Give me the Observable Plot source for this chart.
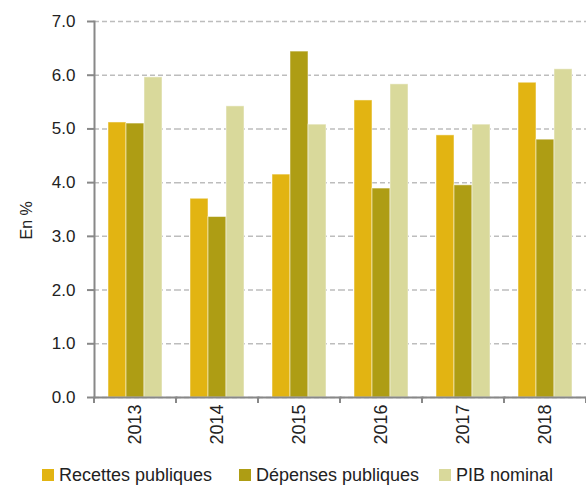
<!DOCTYPE html>
<html>
<head>
<meta charset="utf-8">
<script src="https://cdn.jsdelivr.net/npm/d3@7"></script>
<script src="https://cdn.jsdelivr.net/npm/@observablehq/plot@0.6"></script>
<style>
  html, body { margin: 0; padding: 0; background: #fff; overflow: hidden; }
  #chart { width: 586px; height: 452px; }
  .legend { position: relative; height: 34px; width: 586px; font-family: "Liberation Sans", Arial, sans-serif; font-size: 18px; color: #222; white-space: nowrap; }
  .legend .item { position: absolute; top: 12px; height: 22px; display: flex; align-items: center; }
  .legend .sw { width: 12px; height: 12px; margin-right: 5px; flex: none; }
</style>
</head>
<body>
<div id="chart"></div>
<script>
const years = ["2013", "2014", "2015", "2016", "2017", "2018"];
const series = ["Recettes publiques", "Dépenses publiques", "PIB nominal"];
const recettes = [5.12, 3.70, 4.15, 5.53, 4.88, 5.86];
const depenses = [5.10, 3.36, 6.44, 3.89, 3.95, 4.80];
const pib = [5.96, 5.42, 5.08, 5.83, 5.08, 6.11];
const yTicks = [0, 1, 2, 3, 4, 5, 6, 7];
const colors = ["#e2b412", "#ae9d14", "#d9d99b"];
const yLabel = "En %";
const legendLeft = [42, 239, 439];

const valuesBySeries = [recettes, depenses, pib];
const data = years.flatMap((year, i) =>
  series.map((s, j) => ({ year, series: s, value: valuesBySeries[j][i] }))
);

const chart = Plot.plot({
  width: 586,
  height: 452,
  marginLeft: 93,
  marginRight: 0,
  marginTop: 21,
  marginBottom: 55,
  style: { fontFamily: "'Liberation Sans', Arial, sans-serif", fontSize: "17px", color: "#222" },
  fx: { domain: years, padding: 0, label: null },
  x: { domain: series, paddingInner: 0, paddingOuter: 0.74, axis: null },
  y: { domain: [0, 7], label: null },
  color: { domain: series, range: colors },
  marks: [
    Plot.gridY(yTicks, { stroke: "#bdbdbd", strokeOpacity: 1, strokeDasharray: "5,3", strokeWidth: 1.5 }),
    Plot.barY(data, { fx: "year", x: "series", y: "value", fill: "series", stroke: "white", strokeOpacity: 0.5, strokeWidth: 1 }),
    Plot.frame({ anchor: "bottom", stroke: "#888", strokeWidth: 2 }),
    Plot.frame({ anchor: "left", stroke: "#888", strokeWidth: 2, facetAnchor: "left" }),
    Plot.axisY(yTicks, { tickFormat: d => d.toFixed(1), tickSize: 7, tickPadding: 12, fontSize: 17, stroke: "#888", strokeWidth: 2, label: null }),
    Plot.axisFx({ anchor: "bottom", tickRotate: -90, tickSize: 0, tickPadding: 7, fontSize: 18, label: null }),
    Plot.text([yLabel], { frameAnchor: "left", dx: -68, dy: 30, rotate: -90, fontSize: 16, fill: "#222", facetAnchor: "left" })
  ]
});

// boundary tick marks on the bottom axis, positioned from the fx scale
const fx = chart.scale("fx");
const yS = chart.scale("y");
const y0 = yS.apply(0);
const bounds = years.map(y => fx.apply(y)).concat([fx.apply(years[years.length - 1]) + fx.bandwidth]);
d3.select(chart).append("g")
  .selectAll("line").data(bounds).join("line")
  .attr("x1", d => d).attr("x2", d => d)
  .attr("y1", y0).attr("y2", y0 + 6)
  .attr("stroke", "#888").attr("stroke-width", 2);

document.getElementById("chart").appendChild(chart);

const legend = d3.select("body").append("div").attr("class", "legend");
series.forEach((s, i) => {
  const item = legend.append("div").attr("class", "item").style("left", legendLeft[i] + "px");
  item.append("div").attr("class", "sw").style("background", colors[i]);
  item.append("span").text(s);
});
</script>
</body>
</html>
